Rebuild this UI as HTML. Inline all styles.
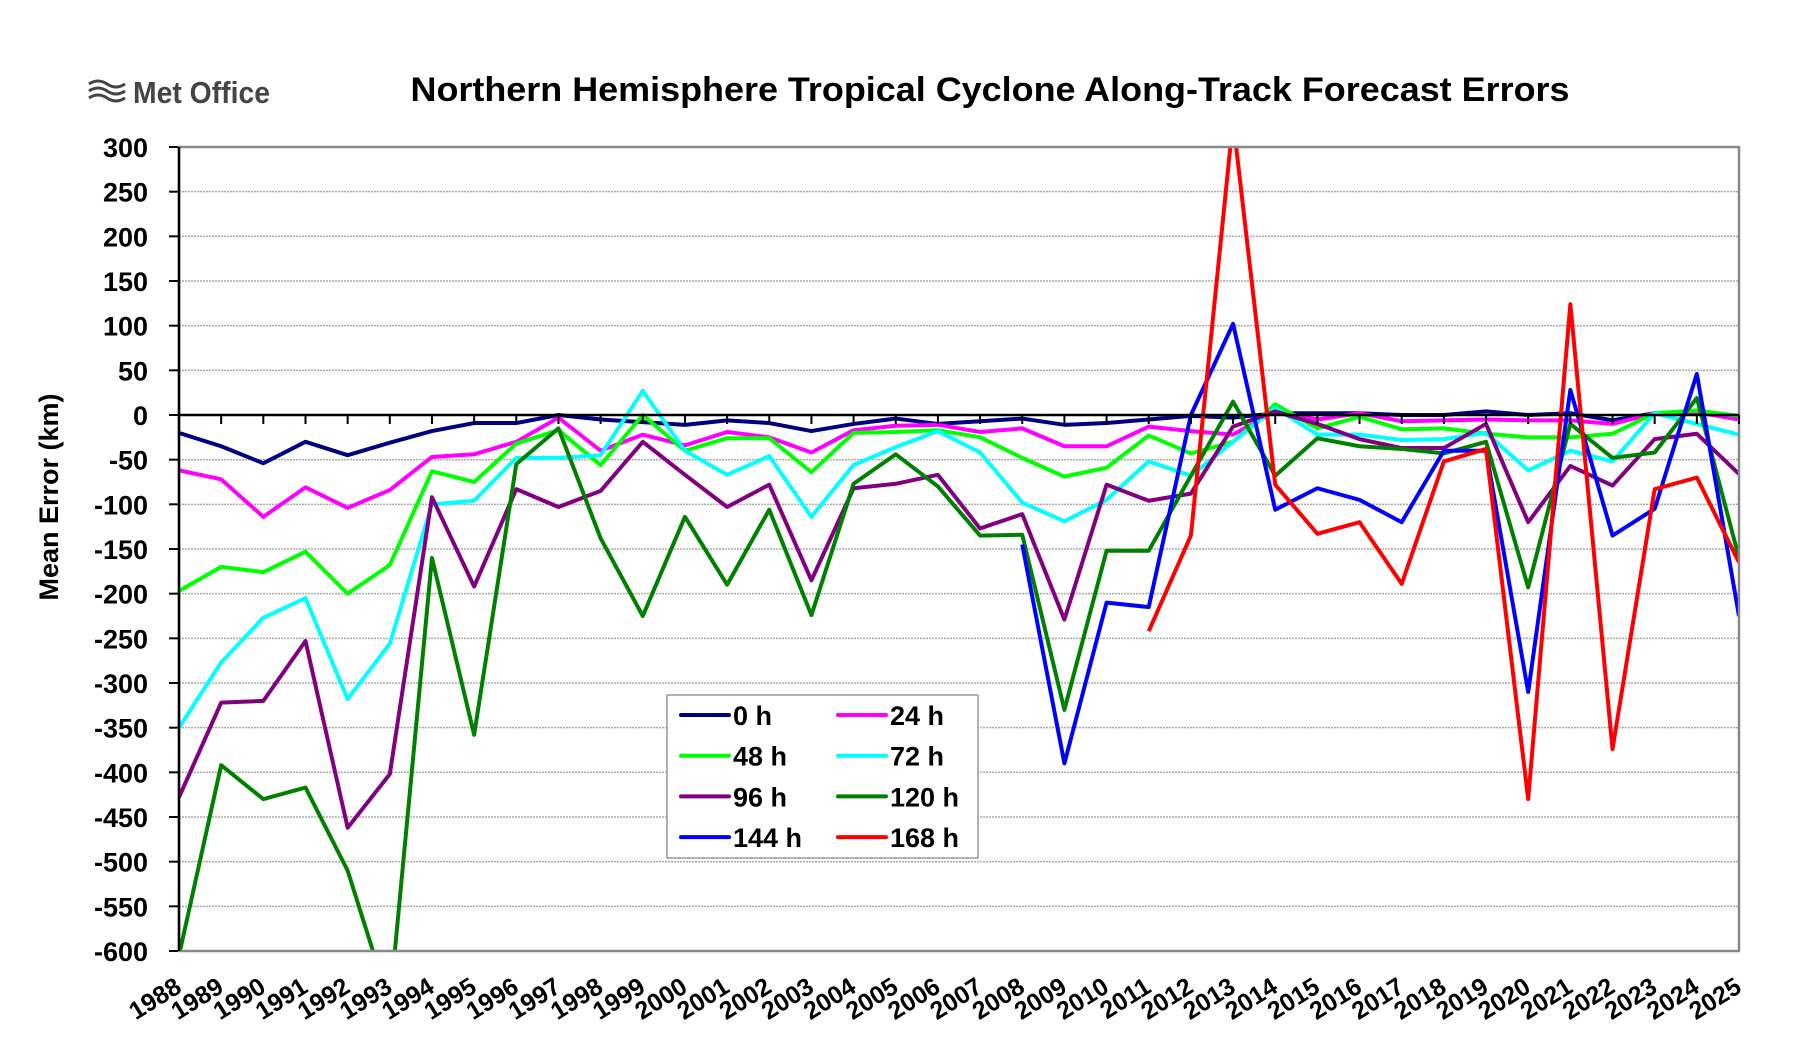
<!DOCTYPE html>
<html><head><meta charset="utf-8"><style>
body{margin:0;background:#fff;}
svg{display:block;font-family:"Liberation Sans",sans-serif;}
</style></head><body>
<svg id="c" width="1800" height="1064" viewBox="0 0 1800 1064" xmlns="http://www.w3.org/2000/svg">
<defs><clipPath id="pc"><rect x="179" y="147" width="1560" height="804"/></clipPath></defs>
<g id="grid"></g>
<g id="series" clip-path="url(#pc)"></g>
<g id="axes"></g>
<!-- logo -->
<g fill="none" stroke="#444" stroke-width="3">
<path d="M89 84 q9 -6 18 0 t18 0"/>
<path d="M89 91 q9 -6 18 0 t18 0"/>
<path d="M89 98 q9 -6 18 0 t18 0"/>
</g>
<text x="133" y="103" font-size="31" fill="#444" font-weight="bold" textLength="137" lengthAdjust="spacingAndGlyphs">Met Office</text>
<text x="990" y="101" font-size="34" font-weight="bold" text-anchor="middle" textLength="1159" lengthAdjust="spacingAndGlyphs">Northern Hemisphere Tropical Cyclone Along-Track Forecast Errors</text>
<text transform="translate(58,497) rotate(-90)" font-size="27" font-weight="bold" text-anchor="middle">Mean Error (km)</text>
<g id="legend"></g>
</svg>
<script>
const NS="http://www.w3.org/2000/svg";
const L=179,R=1739,T=147,B=951;
const X=i=>L+i*(R-L)/37, Y=v=>T+(300-v)*(B-T)/900;
function el(p,t,a,txt){const e=document.createElementNS(NS,t);for(const k in a)e.setAttribute(k,a[k]);if(txt!==undefined)e.textContent=txt;document.getElementById(p).appendChild(e);return e;}
for(let v=300;v>=-600;v-=50){
  const y=Y(v);
  if(v!==300&&v!==-600&&v!==0) el("grid","line",{x1:L,x2:R,y1:y,y2:y,stroke:"#aaa","stroke-width":1.5,"stroke-dasharray":"2,1"});
  el("axes","line",{x1:169,x2:L,y1:y,y2:y,stroke:"#000","stroke-width":2});
  el("axes","text",{x:148,y:y+10,"font-size":27,"font-weight":"bold","text-anchor":"end"},String(v));
}
el("axes","rect",{x:L,y:T,width:R-L,height:B-T,fill:"none",stroke:"#888","stroke-width":2.5});
el("axes","line",{x1:L,x2:L,y1:T,y2:B,stroke:"#000","stroke-width":2.5});
el("axes","line",{x1:L,x2:R,y1:Y(0),y2:Y(0),stroke:"#000","stroke-width":2.5});
for(let i=0;i<38;i++){
  const x=X(i);
  el("axes","line",{x1:x,x2:x,y1:Y(0),y2:Y(0)+9,stroke:"#000","stroke-width":2});
  el("axes","text",{transform:`translate(${x+4},${Y(-600)+40}) rotate(-32)`,"font-size":25,"font-weight":"bold","text-anchor":"end"},String(1988+i));
}
const S=[
["#000080",0,[-20,-35,-54,-30,-45,-31,-18,-9,-9,0,-5,-8,-11,-6,-9,-18,-10,-4,-10,-7,-4,-11,-9,-5,-1,-3,2,2,2,0,0,4,0,2,-6,2,3,-2]],
["#ff00ff",0,[-62,-72,-114,-81,-104,-84,-47,-44,-30,-3,-40,-22,-34,-19,-25,-42,-17,-12,-11,-19,-15,-35,-35,-13,-18,-22,4,-5,2,-7,-6,-5,-6,-6,-10,2,3,-5]],
["#00ff00",0,[-197,-170,-176,-153,-200,-168,-63,-75,-32,-17,-56,0,-40,-26,-26,-64,-20,-19,-17,-25,-48,-69,-59,-23,-43,-30,12,-15,-2,-16,-15,-21,-25,-25,-21,2,5,-1]],
["#00ffff",0,[-350,-277,-227,-205,-318,-256,-100,-96,-48,-48,-45,27,-40,-67,-46,-114,-56,-36,-18,-42,-98,-119,-95,-52,-68,-30,8,-22,-22,-28,-27,-20,-62,-40,-52,2,-10,-22]],
["#800080",0,[-428,-322,-320,-253,-462,-402,-92,-192,-83,-103,-85,-30,-67,-103,-78,-185,-82,-77,-67,-127,-111,-229,-78,-96,-88,-13,4,-10,-27,-37,-37,-10,-120,-57,-79,-27,-21,-66]],
["#008000",0,[-605,-392,-430,-417,-510,-660,-160,-358,-55,-15,-138,-225,-114,-190,-106,-224,-77,-44,-80,-135,-134,-330,-152,-152,-68,15,-68,-26,-35,-38,-43,-30,-193,-10,-48,-42,19,-160]],
["#0000ff",20,[-145,-390,-210,-215,0,102,-106,-82,-95,-120,-40,-40,-310,28,-135,-105,46,-225]],
["#ff0000",23,[-242,-135,330,-78,-133,-120,-189,-52,-38,-430,124,-374,-83,-70,-165]]
];
for(const [c,o,d] of S){
  el("series","polyline",{points:d.map((v,i)=>X(o+i)+","+Y(v)).join(" "),fill:"none",stroke:c,"stroke-width":4,"stroke-linejoin":"round"});
}
el("legend","rect",{x:667,y:695,width:311,height:163,fill:"#fff",stroke:"#999","stroke-width":1.5});
const lab=["0 h","24 h","48 h","72 h","96 h","120 h","144 h","168 h"];
lab.forEach((t,i)=>{const col=i%2,row=Math.floor(i/2);const y=715+row*40.7;const x0=col?838:681;
  el("legend","line",{x1:x0,x2:x0+48,y1:y,y2:y,stroke:S[i][0],"stroke-width":4,"stroke-linecap":"round"});
  el("legend","text",{x:x0+52,y:y+10,"font-size":27,"font-weight":"bold"},t);});
</script>
</body></html>
